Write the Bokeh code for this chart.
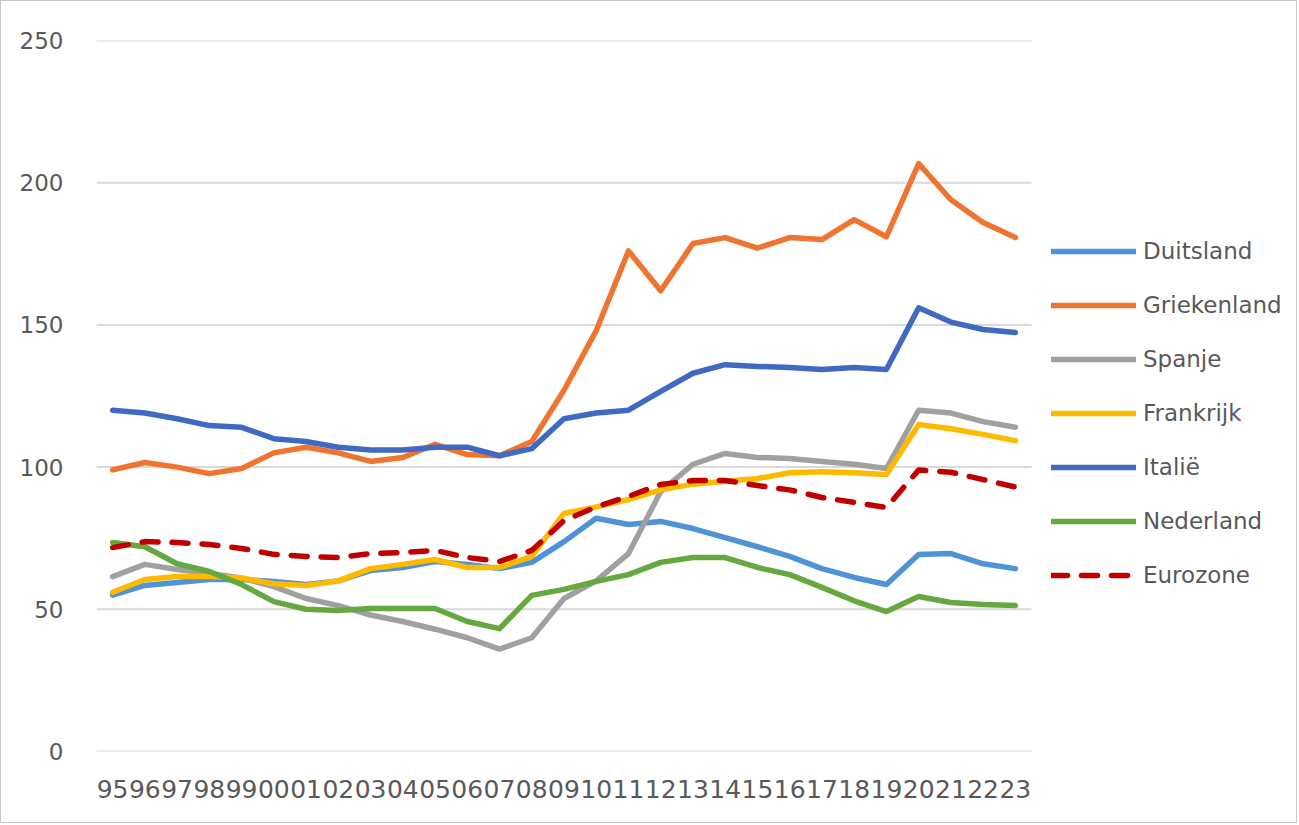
from bokeh.plotting import figure
from bokeh.models import Legend, LegendItem, FixedTicker, Range1d
from bokeh.embed import file_html
from bokeh.resources import INLINE

years = ["95", "96", "97", "98", "99", "00", "01", "02", "03", "04", "05", "06", "07", "08",
         "09", "10", "11", "12", "13", "14", "15", "16", "17", "18", "19", "20", "21", "22", "23"]

duitsland = [55, 58.4, 59.4, 60.5, 60.5, 59.8, 58.7, 60, 63.6, 64.7, 66.8, 65.8, 64.3, 66.5,
             73.8, 82, 79.8, 80.9, 78.4, 75.2, 72, 68.6, 64.3, 61.2, 58.7, 69.3, 69.6, 66, 64.3]
griekenland = [99, 101.6, 100, 97.7, 99.5, 105, 107, 105, 102, 103.4, 108, 104.4, 104, 109,
               127, 148, 176, 162, 178.6, 180.7, 177, 180.7, 180, 187, 181, 206.7, 194, 186, 180.7]
spanje = [61.5, 65.8, 64, 62.6, 61, 58, 53.8, 51.3, 48, 45.7, 43, 40, 36, 40,
          53.8, 60, 69.6, 91.4, 101, 104.8, 103.4, 103, 102, 101, 99.5, 120, 119, 116, 114]
frankrijk = [56, 60.5, 61.5, 61.5, 61, 59, 58.4, 60, 64.3, 65.8, 67.5, 64.7, 64.7, 68.6,
             83.7, 86, 88.6, 92, 94, 95, 96, 98, 98.4, 98, 97.4, 115, 113.5, 111.5, 109.3]
italie = [120, 119, 117, 114.6, 114, 110, 109, 107, 106, 106, 107, 107, 104, 106.5,
          117, 119, 120, 126.6, 133, 136, 135.4, 135, 134.3, 135, 134.3, 156, 151, 148.4, 147.3]
nederland = [73.5, 72, 66, 63.3, 58.7, 52.7, 50, 49.6, 50.3, 50.3, 50.3, 45.7, 43.2, 54.9,
             57, 59.8, 62.2, 66.5, 68.2, 68.2, 64.7, 62.2, 57.7, 53, 49.2, 54.5, 52.4, 51.7, 51.3]
eurozone = [71.7, 73.8, 73.5, 72.8, 71.4, 69.3, 68.6, 68.2, 69.6, 70, 70.7, 68.2, 66.8, 70.7,
            81.2, 86, 89.7, 93.9, 95.3, 95.3, 93.5, 92, 89.3, 87.6, 85.8, 99, 98.2, 95.6, 93]
y_ticks = [0, 50, 100, 150, 200, 250]

series = [
    ("Duitsland", duitsland, "#4E93D6", "solid"),
    ("Griekenland", griekenland, "#EE7430", "solid"),
    ("Spanje", spanje, "#A0A0A0", "solid"),
    ("Frankrijk", frankrijk, "#FFBA00", "solid"),
    ("Italië", italie, "#3F69C2", "solid"),
    ("Nederland", nederland, "#65A83F", "solid"),
    ("Eurozone", eurozone, "#C00000", "16 14"),
]

n = len(years)
xs = list(range(n))

# layout: plot area of the lines is 935 px wide, the legend sits to its right inside the frame
W, H = 1297, 823
LEFT, TOP, BOTTOM = 95, 39, 73
PLOT_W = 935
unit = PLOT_W / n
x_end = -0.5 + (W - LEFT) / unit

p = figure(width=W, height=H, output_backend="svg", toolbar_location=None,
           x_range=Range1d(-0.5, x_end), y_range=Range1d(0, 250),
           min_border_left=LEFT, min_border_right=0, min_border_top=TOP, min_border_bottom=BOTTOM,
           styles={"border": "1px solid #c8c8c8"})

p.outline_line_color = None
p.xgrid.grid_line_color = None
p.ygrid.grid_line_color = None
p.yaxis.ticker = FixedTicker(ticks=y_ticks)
p.xaxis.ticker = FixedTicker(ticks=xs)
p.xaxis.major_label_overrides = {i: y for i, y in enumerate(years)}

# horizontal gridlines limited to the data area
p.segment(x0=[-0.5] * len(y_ticks), x1=[n - 0.5] * len(y_ticks), y0=y_ticks, y1=y_ticks,
          line_color="#d9d9d9", line_width=2)

for ax in (p.xaxis, p.yaxis):
    ax.axis_line_color = None
    ax.major_tick_line_color = None
    ax.minor_tick_line_color = None
    ax.major_label_text_color = "#595959"
    ax.major_label_text_font = "DejaVu Sans"
p.yaxis.major_label_text_font_size = "23px"
p.xaxis.major_label_text_font_size = "25px"
p.yaxis.major_label_standoff = 27
p.xaxis.major_label_standoff = 22

items = []
for name, vals, color, dash in series:
    r = p.line(xs, vals, line_color=color, line_width=5.5, line_dash=dash,
               line_cap="round", line_join="round")
    items.append(LegendItem(label=name, renderers=[r]))

legend = Legend(items=items, location=(955, 162), orientation="vertical",
                glyph_width=85, glyph_height=28, label_height=28,
                spacing=26, label_standoff=7, padding=0, margin=0,
                border_line_color=None, background_fill_alpha=0,
                label_text_font="DejaVu Sans", label_text_font_size="23px",
                label_text_color="#595959")
p.add_layout(legend)

open("out.html", "w").write(file_html(p, INLINE))
